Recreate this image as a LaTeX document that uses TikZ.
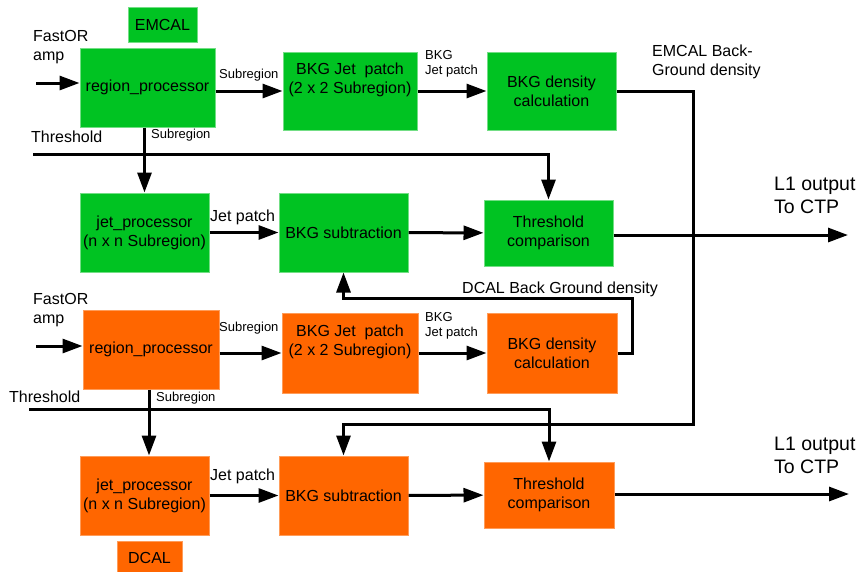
\documentclass[tikz,border=0pt]{standalone}
\usepackage{fontspec}
\setmainfont{Liberation Sans}
\usetikzlibrary{arrows.meta, positioning, calc}

\definecolor{emgreen}{HTML}{00C322}
\definecolor{dcorange}{HTML}{FF6600}
\newcommand{\boxfont}{\fontsize{16}{19}\selectfont}
\newcommand{\smallfont}{\fontsize{13}{15}\selectfont}
\newcommand{\bigfont}{\fontsize{19.5}{23}\selectfont}

\begin{document}
\begin{tikzpicture}[
  x=1pt, y=-1pt,
  emcal/.style={rectangle, draw=emgreen!55!white, line width=1pt, fill=emgreen, inner sep=0pt, align=center, font=\boxfont},
  dcal/.style={rectangle, draw=dcorange!65!white, line width=1pt, fill=dcorange, inner sep=0pt, align=center, font=\boxfont},
  lbl/.style={inner sep=0pt, anchor=west, align=left, font=\boxfont},
  small/.style={inner sep=0pt, anchor=west, align=left, font=\smallfont},
  outlbl/.style={inner sep=0pt, anchor=west, align=left, font=\bigfont},
  arrow/.style={-{Triangle[length=20pt, width=14pt]}, line width=3pt},
  wire/.style={line width=3pt}
]
\useasboundingbox (0,0) rectangle (861,571);

% ------------------------------------------------------------
% EMCAL chain
% ------------------------------------------------------------

\node[emcal, minimum width=69, minimum height=35] (tagE) at (162.5,24.5) {EMCAL};
\node[emcal, minimum width=135, minimum height=79] (rpE) at (147.5,87.5) {region\_processor};
\node[emcal, minimum width=134, minimum height=78] (bjE) at (350,91) {BKG Jet~ patch\\(2 x 2 Subregion)\\\strut};
\node[emcal, minimum width=129, minimum height=78] (bdE) at (551.5,91) {BKG density\\calculation};
\node[emcal, minimum width=129, minimum height=79] (jpE) at (144.5,232.5) {jet\_processor\\(n x n Subregion)};
\node[emcal, minimum width=129, minimum height=79] (bsE) at (343.5,232.5) {BKG subtraction};
\node[emcal, minimum width=129, minimum height=66] (tcE) at (548.5,233) {Threshold\\comparison};

\node[lbl] (fastE) at (33,47) {FastOR\\amp};
\node[lbl] (thrE) at (31,137) {Threshold};
\node[small] (subE) at (219,75) {Subregion};
\node[small] (subdE) at (151,135) {Subregion};
\node[lbl] (jetE) at (210,217) {Jet patch};
\node[small] (bkgE) at (425,64) {BKG\\Jet patch};
\node[lbl] (densE) at (652,62) {EMCAL Back-\\Ground density};
\node[outlbl] (outE) at (774,195) {L1 output\\To CTP};

\coordinate (inE) at (36,83);
\coordinate (thE) at (33,154);
\coordinate (endE) at (848,235);

\draw[arrow] (inE) -- (inE -| rpE.west);
\draw[arrow] (rpE.east |- bjE) -- (bjE);
\draw[arrow] (bjE) -- (bdE);
\draw[arrow] (rpE.south -| jpE.north) -- (jpE.north);
\draw[arrow] (jpE) -- (bsE);
\draw[arrow] (bsE) -- (tcE);
\draw[arrow] (tcE.east |- endE) -- (endE);
\draw[arrow] (thE) -- (thE -| tcE.north) -- (tcE.north);

% ------------------------------------------------------------
% DCAL chain
% ------------------------------------------------------------

\node[dcal, minimum width=136, minimum height=79] (rpD) at (151,349.5) {region\_processor};
\node[dcal, minimum width=136, minimum height=80] (bjD) at (350,353) {BKG Jet~ patch\\(2 x 2 Subregion)\\\strut};
\node[dcal, minimum width=130, minimum height=80] (bdD) at (552,353) {BKG density\\calculation};
\node[dcal, minimum width=129, minimum height=79] (jpD) at (144.5,495.5) {jet\_processor\\(n x n Subregion)};
\node[dcal, minimum width=129, minimum height=79] (bsD) at (343.5,495.5) {BKG subtraction};
\node[dcal, minimum width=130, minimum height=66] (tcD) at (549,495) {Threshold\\comparison};
\node[dcal, minimum width=65, minimum height=34] (tagD) at (149.5,558) {DCAL};

\node[lbl] (fastD) at (33,310) {FastOR\\amp};
\node[lbl] (thrD) at (9,397) {Threshold};
\node[small] (subD) at (219,328) {Subregion};
\node[small] (subdD) at (156,398) {Subregion};
\node[lbl] (jetD) at (210,476) {Jet patch};
\node[small] (bkgD) at (425,326) {BKG\\Jet patch};
\node[lbl] (densD) at (462,289) {DCAL Back Ground density};
\node[outlbl] (outD) at (774,455) {L1 output\\To CTP};

\coordinate (inD) at (36,346);
\coordinate (thD) at (29,409);
\coordinate (endD) at (849,494);

\draw[arrow] (inD) -- (inD -| rpD.west);
\draw[arrow] (rpD.east |- bjD) -- (bjD);
\draw[arrow] (bjD) -- (bdD);
\draw[arrow] ([xshift=-2pt]rpD.south) -- ([xshift=-2pt]rpD.south |- jpD.north);
\draw[arrow] (jpD) -- (bsD);
\draw[arrow] (bsD) -- (tcD);
\draw[arrow] (tcD.east |- endD) -- (endD);
\draw[arrow] (thD) -- (thD -| tcD.north) -- (tcD.north);

% ------------------------------------------------------------
% Back-ground density exchange
% ------------------------------------------------------------

\draw[arrow] (bdE.east) -- ++(77,0) |- (343.5,424) -- (bsD.north);
\draw[arrow] (bdD.east) -- ++(15,0) |- (343.5,298) -- (bsE.south);

\end{tikzpicture}
\end{document}
